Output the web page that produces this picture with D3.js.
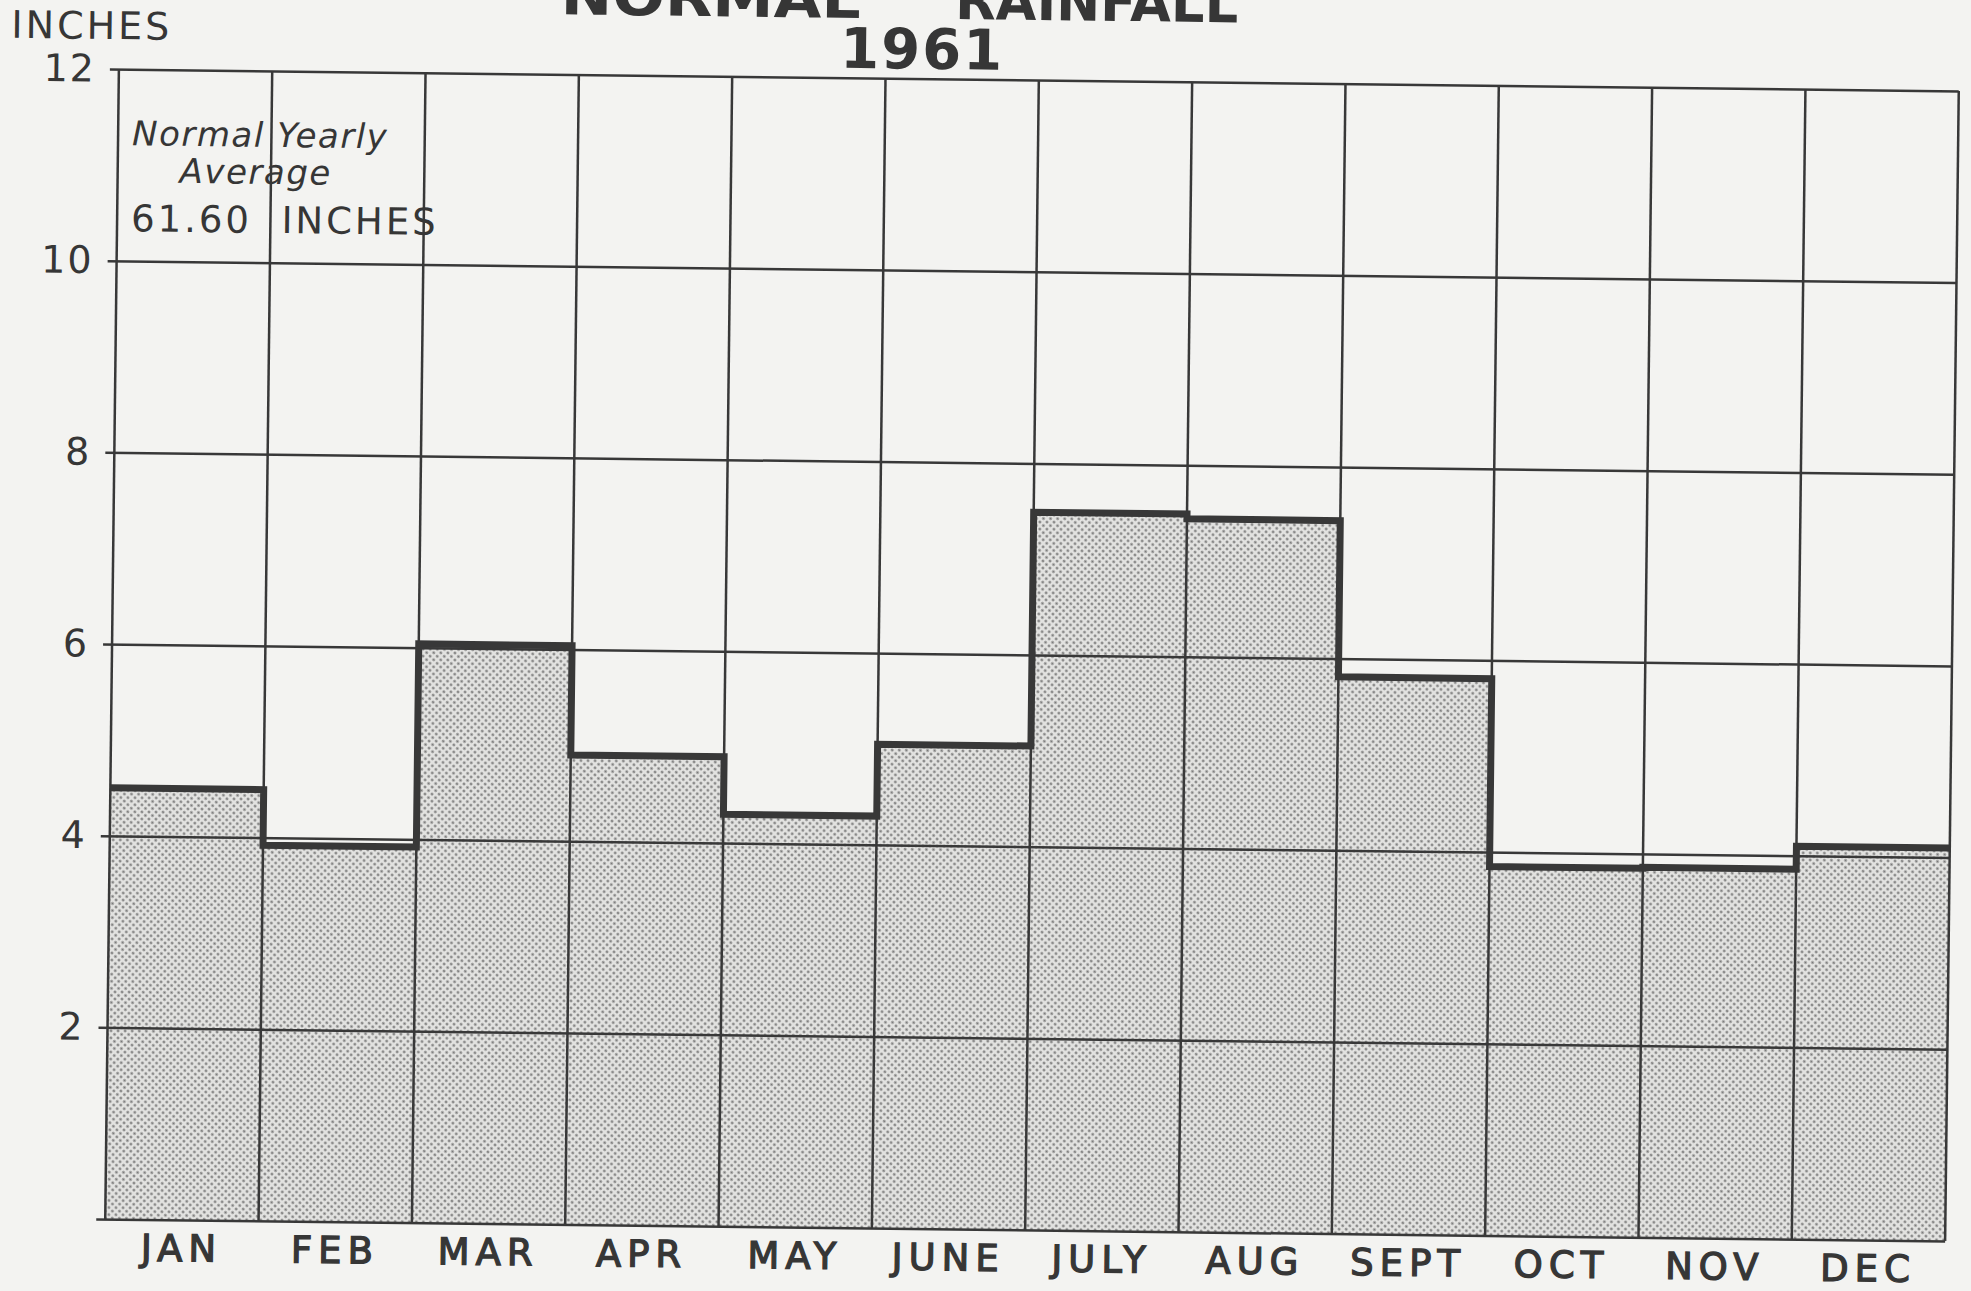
<!DOCTYPE html>
<html>
<head>
<meta charset="utf-8">
<script src="https://cdn.jsdelivr.net/npm/d3@7"></script>
<style>
  body { margin: 0; background: #f3f3f1; }
  text { font-family: "DejaVu Sans", sans-serif; fill: #363636; }
</style>
</head>
<body>
<div class="chart"></div>
<script>

// chart data
var months = ["JAN", "FEB", "MAR", "APR", "MAY", "JUNE", "JULY", "AUG", "SEPT", "OCT", "NOV", "DEC"];
var rainfall = [4.5, 3.92, 6.04, 4.9, 4.3, 5.05, 7.49, 7.44, 5.81, 3.85, 3.86, 4.1];
var yTicks = [0, 2, 4, 6, 8, 10, 12];

var svgWidth = 1971;
var svgHeight = 1291;

var margin = {
    top: 80,
    right: 19,
    bottom: 61,
    left: 112
};

var width = svgWidth - margin.left - margin.right;
var height = svgHeight - margin.top - margin.bottom;

var ink = "#383838";

var svg = d3
    .select(".chart")
    .append("svg")
    .attr("width", svgWidth)
    .attr("height", svgHeight);

// halftone dots used for the shaded part
var defs = svg.append("defs");
var pattern = defs.append("pattern")
    .attr("id", "dots")
    .attr("patternUnits", "userSpaceOnUse")
    .attr("width", 5)
    .attr("height", 5)
    .attr("patternTransform", "rotate(45)");
pattern.append("rect")
    .attr("width", 5)
    .attr("height", 5)
    .attr("fill", "#e2e2e0");
pattern.append("circle")
    .attr("cx", 2.5)
    .attr("cy", 2.5)
    .attr("r", 1.3)
    .attr("fill", "#787878");

// the scanned sheet is a little tilted
var page = svg.append("g")
    .attr("transform", "rotate(0.68, 1032, 655)");

var chartGroup = page.append("g")
    .attr("transform", `translate(${margin.left}, ${margin.top})`);

var xScale = d3.scaleBand()
    .domain(months)
    .range([0, width])
    .padding(0);

var yScale = d3.scaleLinear()
    .domain([0, 12])
    .range([height, 0]);

// step points: each month starts at its band edge, last one closes at the right border
var stepData = months.map((m, i) => ({ x: xScale(m), v: rainfall[i] }));
stepData.push({ x: width, v: rainfall[rainfall.length - 1] });

var area = d3.area()
    .curve(d3.curveStepAfter)
    .x(d => d.x)
    .y0(height)
    .y1(d => yScale(d.v));

chartGroup.append("path")
    .datum(stepData)
    .attr("d", area)
    .attr("fill", "url(#dots)");

// horizontal grid lines + y labels
var leftAxis = d3.axisLeft(yScale)
    .tickValues(yTicks)
    .tickSize(-(width + 9))
    .tickPadding(14)
    .tickFormat(d => d === 0 ? "" : d);

var yAxis = chartGroup.append("g")
    .attr("transform", "translate(-9, 0)")
    .call(leftAxis);

yAxis.select(".domain").remove();
yAxis.selectAll("line")
    .attr("stroke", ink)
    .attr("stroke-width", 2.5);
yAxis.selectAll("text")
    .attr("font-size", 38)
    .attr("letter-spacing", 2)
    .attr("fill", "#363636");

// vertical grid lines at month boundaries
var edges = months.map(m => xScale(m)).concat([width]);

chartGroup.selectAll(".vline")
    .data(edges)
    .enter()
    .append("line")
    .attr("class", "vline")
    .attr("x1", d => d)
    .attr("x2", d => d)
    .attr("y1", 0)
    .attr("y2", height)
    .attr("stroke", ink)
    .attr("stroke-width", 2.5);

// month labels
var bottomAxis = d3.axisBottom(xScale)
    .tickSize(0)
    .tickPadding(15);

var xAxis = chartGroup.append("g")
    .attr("transform", `translate(0, ${height})`)
    .call(bottomAxis);

xAxis.select(".domain").remove();
xAxis.selectAll("text")
    .attr("font-size", 37)
    .attr("letter-spacing", 6)
    .attr("stroke", "#363636")
    .attr("stroke-width", 1.3)
    .attr("fill", "#363636");

// heavy step outline
var stepLine = d3.line()
    .curve(d3.curveStepAfter)
    .x(d => d.x)
    .y(d => yScale(d.v));

chartGroup.append("path")
    .datum(stepData)
    .attr("d", stepLine)
    .attr("fill", "none")
    .attr("stroke", ink)
    .attr("stroke-width", 7)
    .attr("stroke-linejoin", "miter");

// titles
page.append("text")
    .attr("x", 703)
    .attr("y", 20)
    .attr("text-anchor", "middle")
    .attr("font-size", 54)
    .attr("font-weight", "bold")
    .attr("textLength", 300)
    .attr("lengthAdjust", "spacingAndGlyphs")
    .text("NORMAL");

page.append("text")
    .attr("x", 1089)
    .attr("y", 20)
    .attr("text-anchor", "middle")
    .attr("font-size", 54)
    .attr("font-weight", "bold")
    .attr("textLength", 283)
    .attr("lengthAdjust", "spacingAndGlyphs")
    .text("RAINFALL");

page.append("text")
    .attr("x", 915)
    .attr("y", 70)
    .attr("text-anchor", "middle")
    .attr("font-size", 56)
    .attr("font-weight", "bold")
    .attr("letter-spacing", 2)
    .text("1961");

page.append("text")
    .attr("x", 4)
    .attr("y", 50)
    .attr("font-size", 38)
    .attr("letter-spacing", 3)
    .text("INCHES");

// yearly average note
var note = chartGroup.append("g");

note.append("text")
    .attr("x", 14)
    .attr("y", 76)
    .attr("font-size", 34)
    .attr("font-style", "italic")
    .attr("letter-spacing", 1.5)
    .text("Normal Yearly");

note.append("text")
    .attr("x", 62)
    .attr("y", 113)
    .attr("font-size", 34)
    .attr("font-style", "italic")
    .attr("letter-spacing", 1.5)
    .text("Average");

note.append("text")
    .attr("x", 14)
    .attr("y", 162)
    .attr("font-size", 37)
    .attr("letter-spacing", 3)
    .style("white-space", "pre")
    .text("61.60  INCHES");

</script>
</body>
</html>
